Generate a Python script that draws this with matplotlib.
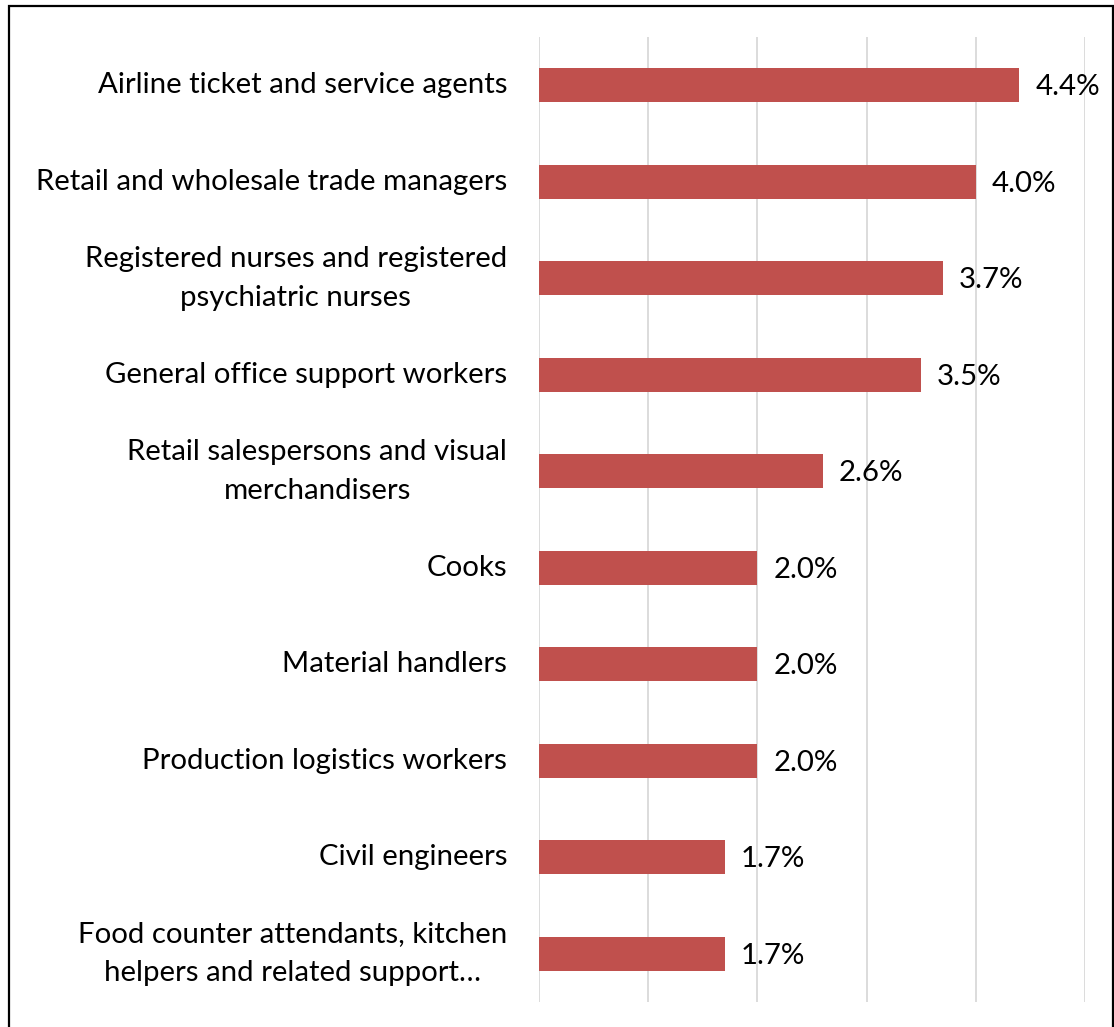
import matplotlib
matplotlib.use("Agg")
import matplotlib.pyplot as plt
from matplotlib.patches import Rectangle

plt.rcParams['font.family'] = ['Lato', 'DejaVu Sans']

categories = [
    "Airline ticket and service agents",
    "Retail and wholesale trade managers",
    "Registered nurses and registered\npsychiatric nurses",
    "General office support workers",
    "Retail salespersons and visual\nmerchandisers",
    "Cooks",
    "Material handlers",
    "Production logistics workers",
    "Civil engineers",
    "Food counter attendants, kitchen\nhelpers and related support\u2026",
]
values = [4.4, 4.0, 3.7, 3.5, 2.6, 2.0, 2.0, 2.0, 1.7, 1.7]
value_labels = ["4.4%", "4.0%", "3.7%", "3.5%", "2.6%", "2.0%", "2.0%", "2.0%", "1.7%", "1.7%"]

W, H = 1114, 1027
fig = plt.figure(figsize=(W / 100, H / 100), dpi=100)

# chart frame
fig.patches.append(Rectangle((9 / W, -0.01), (1113 - 9) / W, (H - 6) / H + 0.01,
                             transform=fig.transFigure, fill=False,
                             edgecolor='black', linewidth=1.6, zorder=0))

left, right, top, bottom = 539, 1085, 37, 1002
ax = fig.add_axes([left / W, (H - bottom) / H, (right - left) / W, (bottom - top) / H])

ypos = list(range(len(categories)))
ax.barh(ypos, values, height=0.35, color='#C0504D', zorder=3)
ax.set_xlim(0, 5)
ax.set_ylim(len(categories) - 0.5, -0.5)

ax.set_xticks([0, 1, 2, 3, 4, 5])
ax.xaxis.grid(True, color='#D9D9D9', linewidth=1.3, zorder=0)
ax.tick_params(axis='x', which='both', length=0, labelbottom=False)
ax.tick_params(axis='y', which='both', length=0, pad=23)
ax.set_yticks(ypos)
ax.set_yticklabels(categories, fontsize=21.2, multialignment='center',
                   color='black', linespacing=1.6, va='center')
for s in ax.spines.values():
    s.set_visible(False)

for y, v, lab in zip(ypos, values, value_labels):
    ax.annotate(lab, xy=(v, y), xytext=(16, -2), textcoords='offset pixels',
                va='center', ha='left', fontsize=21.2, color='black')

fig.savefig("out.png", dpi=100)
